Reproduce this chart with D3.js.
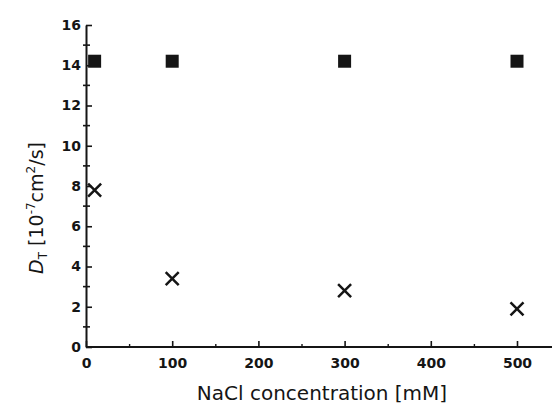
<!DOCTYPE html>
<html>
<head>
<meta charset="utf-8">
<script src="https://cdn.jsdelivr.net/npm/d3@7"></script>
<style>
  body { margin: 0; background: #fff; }
  svg text { font-family: "DejaVu Sans", "Liberation Sans", sans-serif; fill: #151515; }
</style>
</head>
<body>
<div id="svg-container"></div>
<script>
const width = 552
const height = 405
const margins = { top: 25, right: 0, bottom: 58, left: 86 }

// DATA
const concentrations = [10, 100, 300, 500]
const squareValues = [14.2, 14.2, 14.2, 14.2]
const crossValues = [7.8, 3.4, 2.8, 1.9]
const yMajorTicks = [0, 2, 4, 6, 8, 10, 12, 14, 16]
const yMinorTicks = [1, 3, 5, 7, 9, 11, 13, 15]
const xMajorTicks = [0, 100, 200, 300, 400, 500]
const xMinorTicks = [50, 150, 250, 350, 450]

const svg = d3
  .select("#svg-container")
  .append("svg")
  .attr("width", width)
  .attr("height", height)

const xScale = d3
  .scaleLinear()
  .domain([0, 500])
  .range([margins.left, 517])
const yScale = d3
  .scaleLinear()
  .domain([0, 16])
  .range([height - margins.bottom, margins.top])

const ink = "#151515"

// AXES
const xAxis = svg
  .append("g")
  .attr("transform", `translate(0, ${yScale(0)})`)
  .call(
    d3.axisBottom(xScale).tickValues(xMajorTicks).tickSizeInner(-6).tickSizeOuter(0).tickPadding(11)
  )
xAxis.select(".domain").attr("d", `M${margins.left},0H${width}`).attr("stroke", ink).attr("stroke-width", 2)
xAxis.selectAll(".tick line").attr("stroke", ink).attr("stroke-width", 1.6)
xAxis.selectAll(".tick text")
  .style("font-size", "14px")
  .style("font-weight", "bold")
  .attr("fill", ink)

svg
  .append("g")
  .attr("transform", `translate(0, ${yScale(0)})`)
  .call(d3.axisBottom(xScale).tickValues(xMinorTicks).tickSizeInner(-3).tickSizeOuter(0).tickFormat(""))
  .call((g) => g.select(".domain").remove())
  .selectAll(".tick line")
  .attr("stroke", ink)
  .attr("stroke-width", 1.4)

const yAxis = svg
  .append("g")
  .attr("transform", `translate(${margins.left}, 0)`)
  .call(
    d3.axisLeft(yScale).tickValues(yMajorTicks).tickSizeInner(-6).tickSizeOuter(0).tickPadding(5)
  )
yAxis.select(".domain").attr("stroke", ink).attr("stroke-width", 2)
yAxis.selectAll(".tick line").attr("stroke", ink).attr("stroke-width", 1.6)
yAxis.selectAll(".tick text")
  .style("font-size", "14px")
  .style("font-weight", "bold")
  .attr("fill", ink)

svg
  .append("g")
  .selectAll("line")
  .data(yMinorTicks)
  .join("line")
  .attr("x1", margins.left - 3)
  .attr("x2", margins.left + 4)
  .attr("y1", (d) => yScale(d))
  .attr("y2", (d) => yScale(d))
  .attr("stroke", ink)
  .attr("stroke-width", 1.6)

// MARKS
svg
  .append("g")
  .selectAll("rect")
  .data(concentrations)
  .join("rect")
  .attr("x", (d) => xScale(d) - 6.5)
  .attr("y", (d, i) => yScale(squareValues[i]) - 6.5)
  .attr("width", 13)
  .attr("height", 13)
  .attr("fill", ink)

svg
  .append("g")
  .selectAll("path")
  .data(concentrations)
  .join("path")
  .attr("d", (d, i) => {
    const cx = xScale(d)
    const cy = yScale(crossValues[i])
    const r = 6.5
    return `M${cx - r},${cy - r}L${cx + r},${cy + r}M${cx - r},${cy + r}L${cx + r},${cy - r}`
  })
  .attr("stroke", ink)
  .attr("stroke-width", 2.5)
  .attr("fill", "none")

// AXIS TITLES
svg
  .append("text")
  .attr("x", 322)
  .attr("y", 400)
  .attr("text-anchor", "middle")
  .style("font-size", "20px")
  .text("NaCl concentration [mM]")

const yTitle = svg
  .append("text")
  .attr("transform", "translate(43, 208) rotate(-90)")
  .attr("text-anchor", "middle")
  .style("font-size", "19px")
yTitle.append("tspan").style("font-style", "italic").text("D")
yTitle.append("tspan").attr("dy", 4).style("font-size", "12px").text("T")
yTitle.append("tspan").attr("dy", -4).text(" [10")
yTitle.append("tspan").attr("dy", -8).style("font-size", "12px").text("-7")
yTitle.append("tspan").attr("dy", 8).text("cm")
yTitle.append("tspan").attr("dy", -8).style("font-size", "12px").text("2")
yTitle.append("tspan").attr("dy", 8).text("/s]")
</script>
</body>
</html>
